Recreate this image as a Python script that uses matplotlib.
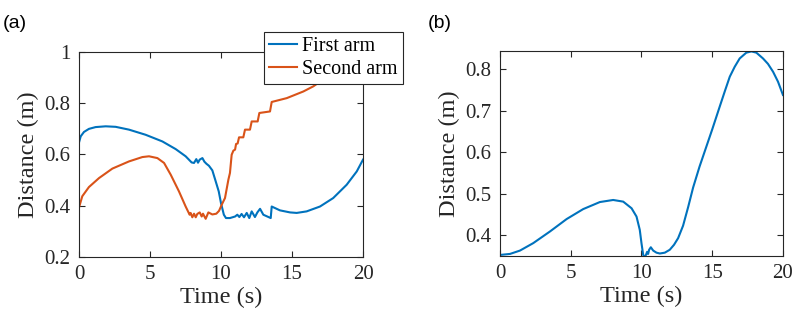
import matplotlib
matplotlib.use("Agg")
import matplotlib.pyplot as plt
from matplotlib.ticker import FuncFormatter

plt.rcParams['font.family'] = ['Liberation Serif', 'DejaVu Serif']

# (a) distance of the two arms
t_first = [0, 0.12, 0.35, 0.7, 1.17, 1.88, 2.58, 3.52, 4.69, 5.87, 6.81, 7.51, 7.93,
           8.1, 8.26, 8.38, 8.5, 8.69, 8.83, 8.97, 9.15, 9.39, 9.6, 9.84, 10.0,
           10.2, 10.35, 10.63, 10.99, 11.15, 11.29, 11.45, 11.62, 11.81, 11.99,
           12.16, 12.39, 12.56, 12.75, 12.98, 13.26, 13.5, 13.57, 14.15, 14.86,
           15.33, 16.03, 16.97, 17.9, 18.85, 19.56, 20.0]
d_first = [0.647, 0.671, 0.688, 0.70, 0.707, 0.71, 0.708, 0.697, 0.677, 0.651, 0.621,
           0.593, 0.569, 0.567, 0.582, 0.568, 0.58, 0.586, 0.572, 0.564, 0.556,
           0.538, 0.50, 0.456, 0.41, 0.365, 0.352, 0.352, 0.358, 0.365, 0.356,
           0.368, 0.355, 0.372, 0.352, 0.378, 0.356, 0.374, 0.388, 0.365, 0.358,
           0.352, 0.397, 0.382, 0.374, 0.372, 0.378, 0.397, 0.43, 0.482, 0.534, 0.58]

t_second = [0, 0.23, 0.7, 1.41, 2.35, 3.52, 4.46, 4.93, 5.52, 5.99, 6.46, 7.04, 7.51,
            7.79, 7.86, 7.98, 8.1, 8.22, 8.33, 8.5, 8.64, 8.73, 8.92, 9.11, 9.39,
            9.67, 9.86, 10.05, 10.28, 10.52, 10.63, 10.75, 10.87, 10.99, 11.06,
            11.17, 11.27, 11.57, 11.69, 12.04, 12.16, 12.58, 12.7, 13.45, 13.57,
            14.63, 15.8, 16.5, 17.0, 18.0, 20.0]
d_second = [0.393, 0.437, 0.473, 0.508, 0.545, 0.573, 0.59, 0.593, 0.586, 0.567,
            0.521, 0.456, 0.397, 0.365, 0.372, 0.355, 0.369, 0.355, 0.368, 0.374,
            0.358, 0.369, 0.349, 0.374, 0.366, 0.369, 0.38, 0.404, 0.43, 0.502,
            0.528, 0.599, 0.615, 0.619, 0.641, 0.643, 0.667, 0.667, 0.697, 0.697,
            0.729, 0.729, 0.762, 0.768, 0.805, 0.82, 0.846, 0.866, 0.885, 0.915, 0.975]

# (b) distance
t_b = [0, 0.71, 1.41, 2.35, 3.53, 4.71, 5.88, 7.06, 8.0, 8.71, 9.3, 9.65, 9.88, 10.0,
       10.12, 10.17, 10.31, 10.4, 10.47, 10.54, 10.66, 10.83, 11.06, 11.3, 11.65,
       12.0, 12.3, 12.59, 12.94, 13.3, 13.65, 14.1, 14.59, 15.0, 15.53, 15.9, 16.24,
       16.59, 16.94, 17.41, 17.77, 18.12, 18.59, 18.94, 19.3, 19.65, 20.0]
d_b = [0.3525, 0.355, 0.363, 0.381, 0.409, 0.439, 0.463, 0.48, 0.485, 0.481, 0.465,
       0.445, 0.413, 0.381, 0.353, 0.348, 0.352, 0.36, 0.355, 0.365, 0.371, 0.363,
       0.358, 0.356, 0.358, 0.365, 0.377, 0.393, 0.423, 0.468, 0.515, 0.565, 0.614,
       0.655, 0.71, 0.748, 0.782, 0.806, 0.826, 0.84, 0.843, 0.84, 0.826, 0.813,
       0.794, 0.77, 0.738]

blue = '#0072BD'
orange = '#D95319'
dark = '#262626'

fig = plt.figure(figsize=(7.94, 3.24), dpi=100)
ax1 = fig.add_axes([0.0995, 0.2068, 0.3577, 0.6327])
ax2 = fig.add_axes([0.6297, 0.2099, 0.3564, 0.6327])

ax1.plot(t_first, d_first, color=blue, lw=1.5, label='First arm')
ax1.plot(t_second, d_second, color=orange, lw=1.5, label='Second arm')
ax1.set_xlim(0, 20)
ax1.set_ylim(0.2, 1.0)
ax1.set_xticks([0, 5, 10, 15, 20])
ax1.set_yticks([0.2, 0.4, 0.6, 0.8, 1.0])

ax2.plot(t_b, d_b, color=blue, lw=1.5)
ax2.set_xlim(0, 20)
ax2.set_ylim(0.35, 0.844)
ax2.set_xticks([0, 5, 10, 15, 20])
ax2.set_yticks([0.4, 0.5, 0.6, 0.7, 0.8])

fmt = FuncFormatter(lambda v, p: '%g' % round(v, 3))
for ax in (ax1, ax2):
    ax.yaxis.set_major_formatter(fmt)
    ax.tick_params(direction='in', top=True, right=True, length=4, width=0.8,
                   labelsize=15, colors=dark, pad=6)
    for s in ax.spines.values():
        s.set_color(dark)
        s.set_linewidth(0.8)
    ax.set_xlabel('Time (s)', fontsize=17.5, color=dark, labelpad=2)
    ax.set_ylabel('Distance (m)', fontsize=17.5, color=dark, labelpad=4)

leg = ax1.legend(loc='upper left', bbox_to_anchor=(264 / 794, 1 - 32 / 324),
                 bbox_transform=fig.transFigure, fontsize=14.5, frameon=True,
                 fancybox=False, framealpha=1, edgecolor=dark, borderpad=0.25,
                 labelspacing=0.2, handlelength=1.4, handletextpad=0.25,
                 borderaxespad=0)
leg.get_frame().set_linewidth(0.8)

fig.text(3 / 794, 1 - 28 / 324, '(a)', fontsize=14, family='Liberation Sans')
fig.text(428 / 794, 1 - 28 / 324, '(b)', fontsize=14, family='Liberation Sans')

fig.savefig('out.png', dpi=100)
